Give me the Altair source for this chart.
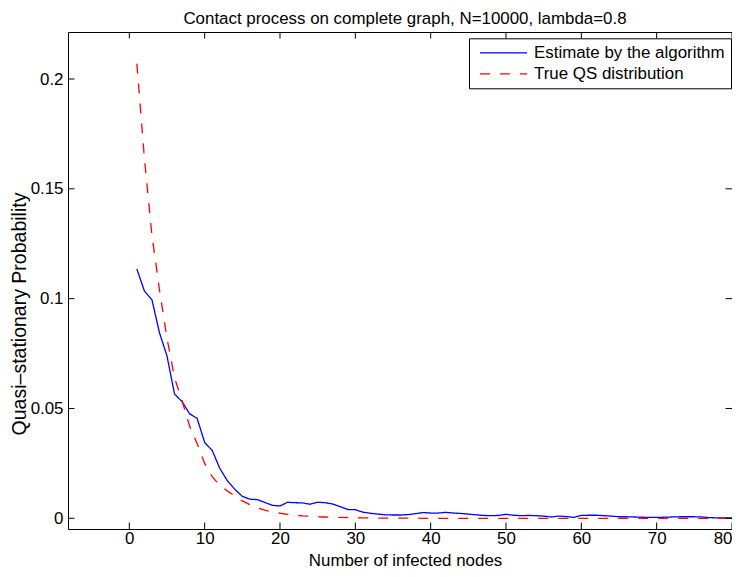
import altair as alt
import pandas as pd

# ---- data ----
n_values = list(range(1, 81))

estimate = [
    0.1135, 0.1035, 0.0995, 0.0845, 0.0739, 0.0566, 0.0531, 0.0476, 0.0455, 0.0345,
    0.0309, 0.0228, 0.0172, 0.0132, 0.0100, 0.0087, 0.0085, 0.0072, 0.0059, 0.0056,
    0.0073, 0.0071, 0.0070, 0.0064, 0.0073, 0.0071, 0.0065, 0.0053, 0.0040, 0.0039,
    0.0028, 0.0023, 0.0019, 0.0016, 0.0015, 0.0015, 0.0017, 0.0021, 0.0026, 0.0024,
    0.0024, 0.0027, 0.0024, 0.0022, 0.0019, 0.0016, 0.0013, 0.0012, 0.0013, 0.0018,
    0.0014, 0.0012, 0.0013, 0.0012, 0.0010, 0.0006, 0.0010, 0.0008, 0.0004, 0.0013,
    0.0014, 0.0014, 0.0012, 0.0010, 0.0007, 0.0007, 0.0006, 0.0005, 0.0004, 0.0004,
    0.0005, 0.0006, 0.0007, 0.0007, 0.0007, 0.0006, 0.0003, 0.0002, 0.0002, 0.0002,
]

true_qs = [
    0.2070, 0.1640, 0.1290, 0.1040, 0.0820, 0.0640, 0.0535, 0.0420, 0.0340, 0.0250,
    0.0190, 0.0150, 0.0125, 0.0102, 0.0079, 0.0062, 0.0047, 0.0037, 0.0029, 0.0023,
    0.0018, 0.0014, 0.0011, 0.0009, 0.0007, 0.0006, 0.0005, 0.0004, 0.0003, 0.0003,
    0.0002, 0.0002, 0.0001, 0.0001, 0.0001, 0.0001, 0.0001, 0.0001, 0.0000, 0.0000,
    0.0000, 0.0000, 0.0000, 0.0000, 0.0000, 0.0000, 0.0000, 0.0000, 0.0000, 0.0000,
    0.0000, 0.0000, 0.0000, 0.0000, 0.0000, 0.0000, 0.0000, 0.0000, 0.0000, 0.0000,
    0.0000, 0.0000, 0.0000, 0.0000, 0.0000, 0.0000, 0.0000, 0.0000, 0.0000, 0.0000,
    0.0000, 0.0000, 0.0000, 0.0000, 0.0000, 0.0000, 0.0000, 0.0000, 0.0000, 0.0000,
]

series_names = ["Estimate by the algorithm", "True QS distribution"]
x_ticks = [0, 10, 20, 30, 40, 50, 60, 70, 80]
y_ticks = [0, 0.05, 0.1, 0.15, 0.2]
title_text = ["Contact process on complete graph, N=10000, lambda=0.8"]

# ---- layout / style ----
W, H = 664, 497
TICK = 6.5
FONT = "Liberation Sans"
FS = 16.9

df = pd.DataFrame({
    "n": n_values + n_values,
    "p": estimate + true_qs,
    "series": [series_names[0]] * len(n_values) + [series_names[1]] * len(n_values),
})
xt = pd.DataFrame({"n": x_ticks})
yt = pd.DataFrame({"p": y_ticks})

xscale = alt.Scale(domain=[-8.14, 80], nice=False, zero=False)
yscale = alt.Scale(domain=[-0.00487, 0.2214], nice=False, zero=False)

x_axis = alt.Axis(
    values=x_ticks, format="d", ticks=False, domain=False, grid=False,
    labelFlush=True, labelOverlap=False,
    labelFont=FONT, labelFontSize=FS, labelColor="black", labelPadding=1,
    title="Number of infected nodes", titleFont=FONT, titleFontSize=FS,
    titleFontWeight="normal", titleColor="black",
    titleBaseline="alphabetic", titleX=337, titleY=36)
y_axis = alt.Axis(
    values=y_ticks, format="~g", ticks=False, domain=False, grid=False,
    labelFlush=False, labelOverlap=False,
    labelFont=FONT, labelFontSize=FS, labelColor="black", labelPadding=5,
    title="Quasi\u2013stationary Probability", titleFont=FONT, titleFontSize=19.5,
    titleFontWeight="normal", titleColor="black",
    titleBaseline="alphabetic", titleX=-42.2, titleY=281.5)

legend = alt.Legend(
    title=None, orient="none", legendX=401, legendY=6.3,
    strokeColor="black", fillColor="white", padding=6, cornerRadius=0,
    symbolType="stroke", symbolSize=2209, symbolStrokeWidth=1.3, symbolOffset=4,
    clipHeight=17, rowPadding=3,
    labelFont=FONT, labelFontSize=FS, labelColor="black", labelOffset=6,
    labelLimit=400,
)

lines = alt.Chart(df).mark_line(strokeWidth=1.3, clip=True).encode(
    x=alt.X("n:Q", scale=xscale, axis=x_axis),
    y=alt.Y("p:Q", scale=yscale, axis=y_axis),
    color=alt.Color("series:N", scale=alt.Scale(domain=series_names, range=["#0000ff", "#ff0000"]), legend=legend),
    strokeDash=alt.StrokeDash("series:N", scale=alt.Scale(domain=series_names, range=[[1, 0], [10, 10]]), legend=legend),
)

rule = dict(color="black", strokeWidth=1)
bottom_ticks = alt.Chart(xt).mark_rule(**rule).encode(
    x=alt.X("n:Q", scale=xscale, axis=x_axis), y=alt.value(H), y2=alt.value(H - TICK))
top_ticks = alt.Chart(xt).mark_rule(**rule).encode(
    x=alt.X("n:Q", scale=xscale, axis=x_axis), y=alt.value(0), y2=alt.value(TICK))
left_ticks = alt.Chart(yt).mark_rule(**rule).encode(
    y=alt.Y("p:Q", scale=yscale, axis=y_axis), x=alt.value(0), x2=alt.value(TICK))
right_ticks = alt.Chart(yt).mark_rule(**rule).encode(
    y=alt.Y("p:Q", scale=yscale, axis=y_axis), x=alt.value(W), x2=alt.value(W - TICK))

title = alt.Chart(pd.DataFrame({"t": title_text})).mark_text(
    font=FONT, fontSize=FS, color="black", align="center", baseline="alphabetic"
).encode(text="t:N", x=alt.value(337), y=alt.value(-8.5))

chart = alt.layer(lines, bottom_ticks, top_ticks, left_ticks, right_ticks, title).properties(
    width=W, height=H,
    autosize=alt.AutoSizeParams(type="none"),
    padding={"left": 60, "top": 24, "right": 0, "bottom": 40},
    background="white",
).configure_view(stroke="black", strokeWidth=1)

chart.save("out.html", embed_options={"renderer": "svg", "actions": False})
